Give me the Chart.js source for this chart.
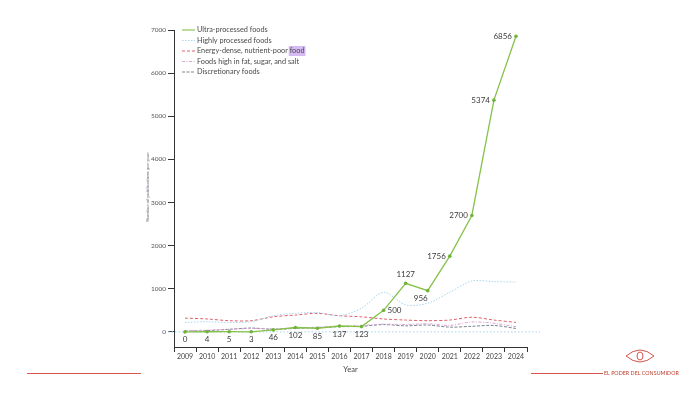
<!DOCTYPE html>
<html>
<head>
<meta charset="utf-8">
<script src="https://cdn.jsdelivr.net/npm/chart.js@4.4.1/dist/chart.umd.min.js"></script>
<style>
  html, body { margin: 0; padding: 0; background: #fff; }
  #wrap { position: relative; width: 700px; height: 394px; overflow: hidden; font-family: Lato, "Liberation Sans", sans-serif; }
  #costChart { position: absolute; left: 0; top: 0; }
  .ytitle { position: absolute; left: 147px; top: 187px; transform: translate(-50%, -50%) rotate(-90deg); font-size: 4.6px; color: #556; white-space: nowrap; letter-spacing: 0.15px; }
  .rule { position: absolute; height: 1px; background: #d9534f; top: 373px; }
  .brand { position: absolute; left: 604px; top: 370px; font-size: 5.3px; color: #c0392b; white-space: nowrap; letter-spacing: 0.05px; }
  .eye { position: absolute; left: 624px; top: 346px; }
</style>
</head>
<body>
<div id="wrap">
  <canvas id="costChart" width="700" height="394"></canvas>
  <div class="ytitle">Number of publications per year</div>
  <div class="rule" style="left:27px; width:114px;"></div>
  <div class="rule" style="left:531px; width:72px;"></div>
  <svg class="eye" width="32" height="20" viewBox="0 0 32 20">
    <path d="M2 10 Q16 -2 30 10 Q16 22 2 10 Z" fill="none" stroke="#d9534f" stroke-width="1"/>
    <ellipse cx="16" cy="10" rx="3" ry="4" fill="none" stroke="#d9534f" stroke-width="1"/>
  </svg>
  <div class="brand">EL PODER DEL CONSUMIDOR</div>
</div>
<script>
const years = ["2009", "2010", "2011", "2012", "2013", "2014", "2015", "2016",
  "2017", "2018", "2019", "2020", "2021", "2022", "2023", "2024"];

const ultraProcessed = [0, 4, 5, 3, 46, 102, 85, 137, 123, 500, 1127, 956, 1756, 2700, 5374, 6856];
const highlyProcessed = [220, 235, 220, 235, 375, 430, 450, 375, 550, 920, 625, 665, 920, 1180, 1165, 1155];
const energyDense = [320, 300, 260, 260, 350, 390, 430, 375, 350, 300, 275, 260, 275, 340, 275, 220];
const highFatSugarSalt = [30, 40, 60, 80, 70, 90, 110, 130, 150, 180, 170, 190, 150, 230, 200, 120];
const discretionary = [20, 30, 60, 90, 60, 80, 100, 120, 130, 170, 140, 160, 110, 130, 150, 80];

const yTicks = [0, 1000, 2000, 3000, 4000, 5000, 6000, 7000];

// where each number on the green line sits relative to its point
const labelSide = ["below", "below", "below", "below", "below", "below", "below", "below", "below",
  "right", "above", "below", "left", "left", "left", "left"];

const ctx = document.getElementById("costChart").getContext("2d");

const pointLabels = {
  id: "pointLabels",
  afterDatasetsDraw(chart) {
    const meta = chart.getDatasetMeta(0);
    const c = chart.ctx;
    c.save();
    c.font = "8px Lato, 'Liberation Sans', sans-serif";
    c.fillStyle = "#3a3a3a";
    c.textBaseline = "middle";
    meta.data.forEach((pt, i) => {
      const side = labelSide[i];
      let x = pt.x, y = pt.y;
      c.textAlign = "center";
      if (side === "below") y += 8;
      if (side === "above") y -= 9;
      if (side === "right") { x += 4; c.textAlign = "left"; }
      if (side === "left") { x -= 4; c.textAlign = "right"; }
      if (i === 11) x -= 7;
      c.fillText(String(ultraProcessed[i]), x, y);
    });
    c.restore();
  }
};

const extras = {
  id: "extras",
  beforeDatasetsDraw(chart) {
    const c = chart.ctx;
    const y0 = chart.scales.y.getPixelForValue(0);
    c.save();
    c.strokeStyle = "#a9d3ea";
    c.lineWidth = 1;
    c.setLineDash([1.5, 2]);
    c.beginPath();
    c.moveTo(chart.chartArea.left - 6, y0);
    c.lineTo(chart.chartArea.right + 13, y0);
    c.stroke();
    c.restore();
  },
  afterDraw(chart) {
    const c = chart.ctx;
    const area = chart.chartArea;
    c.save();
    // legend
    c.font = "7.3px Lato, 'Liberation Sans', sans-serif";
    c.textBaseline = "middle";
    c.textAlign = "left";
    chart.data.datasets.forEach((ds, i) => {
      const y = 30 + i * 10.5;
      if (i === 2) {
        const w = c.measureText("food").width;
        const x0 = 197 + c.measureText("Energy-dense, nutrient-poor ").width;
        c.fillStyle = "rgba(178, 130, 235, 0.55)";
        c.fillRect(x0 - 1, y - 5, w + 2, 10);
      }
      c.strokeStyle = ds.borderColor;
      c.lineWidth = 1.1;
      c.setLineDash(ds.borderDash || []);
      c.beginPath();
      c.moveTo(182, y);
      c.lineTo(195, y);
      c.stroke();
      c.setLineDash([]);
      c.fillStyle = "#4a4a4a";
      c.fillText(ds.label, 197, y);
    });
    // x title
    c.font = "7.5px Lato, 'Liberation Sans', sans-serif";
    c.textAlign = "center";
    c.fillStyle = "#444";
    c.fillText("Year", (area.left + area.right) / 2, 370);
    c.restore();
  }
};

new Chart(ctx, {
  type: "line",
  data: {
    labels: years,
    datasets: [
      {
        label: "Ultra-processed foods",
        data: ultraProcessed,
        borderColor: "#86c24a",
        backgroundColor: "#6fb33a",
        borderWidth: 1.3,
        pointRadius: 1.8,
        pointBorderWidth: 0,
        tension: 0
      },
      {
        label: "Highly processed foods",
        data: highlyProcessed,
        borderColor: "#a8d4ec",
        borderWidth: 1,
        borderDash: [1.5, 1.5],
        pointRadius: 0,
        tension: 0.3
      },
      {
        label: "Energy-dense, nutrient-poor food",
        data: energyDense,
        borderColor: "#e0606a",
        borderWidth: 1,
        borderDash: [3, 2],
        pointRadius: 0,
        tension: 0.3
      },
      {
        label: "Foods high in fat, sugar, and salt",
        data: highFatSugarSalt,
        borderColor: "#d9a6d6",
        borderWidth: 1,
        borderDash: [3, 1.5, 1, 1.5],
        pointRadius: 0,
        tension: 0.3
      },
      {
        label: "Discretionary foods",
        data: discretionary,
        borderColor: "#7a8590",
        borderWidth: 1,
        borderDash: [3, 1.5],
        pointRadius: 0,
        tension: 0.3
      }
    ]
  },
  options: {
    responsive: false,
    animation: false,
    layout: { padding: { left: 0, right: 173, top: 30, bottom: 0 } },
    plugins: {
      legend: { display: false },
      tooltip: { enabled: false }
    },
    scales: {
      x: {
        offset: true,
        afterFit(scale) { scale.height = 47; },
        grid: { offset: true, drawOnChartArea: false, drawTicks: true, tickLength: 5, color: "#333", lineWidth: 1 },
        border: { display: true, color: "#333", width: 1 },
        ticks: {
          color: "#444",
          padding: 1,
          maxRotation: 0,
          autoSkip: false,
          font: { family: "Lato, 'Liberation Sans', sans-serif", size: 7 }
        }
      },
      y: {
        min: -350,
        max: 7000,
        afterFit(scale) { scale.width = 174; },
        afterBuildTicks(scale) { scale.ticks = yTicks.map(v => ({ value: v })); },
        grid: { drawOnChartArea: false, drawTicks: true, tickLength: 6, color: "#333", lineWidth: 1 },
        border: { display: true, color: "#333", width: 1 },
        ticks: {
          color: "#555",
          padding: 2,
          callback: v => String(v),
          font: { family: "Lato, 'Liberation Sans', sans-serif", size: 6.5 }
        }
      }
    }
  },
  plugins: [extras, pointLabels]
});
</script>
</body>
</html>
